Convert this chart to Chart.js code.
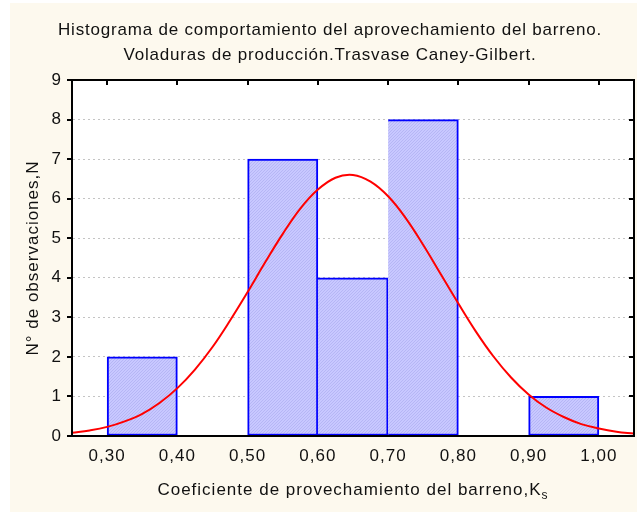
<!DOCTYPE html>
<html>
<head>
<meta charset="utf-8">
<script src="https://cdn.jsdelivr.net/npm/chart.js@4"></script>
<style>
  body { margin: 0; background: #ffffff; }
  canvas { display: block; }
</style>
</head>
<body>
<canvas id="histChart" width="637" height="512"></canvas>
<script>
// datos del histograma
var binCenters = [0.35, 0.45, 0.55, 0.65, 0.75, 0.85, 0.95];
var binCounts = [2, 0, 7, 4, 8, 0, 1];

// curva normal
var curveX = [0.25, 0.275, 0.30, 0.325, 0.35, 0.375, 0.40, 0.425, 0.45, 0.475, 0.50, 0.525, 0.55, 0.575,
              0.60, 0.625, 0.65, 0.675, 0.70, 0.725, 0.75, 0.775, 0.80, 0.825, 0.85, 0.875, 0.90, 0.925,
              0.95, 0.975, 1.00, 1.025, 1.05];
var curveY = [0.08, 0.14, 0.23, 0.37, 0.56, 0.84, 1.21, 1.68, 2.25, 2.92, 3.64, 4.39, 5.11, 5.75,
              6.23, 6.53, 6.60, 6.43, 6.06, 5.51, 4.83, 4.09, 3.35, 2.64, 2.01, 1.48, 1.05, 0.72,
              0.48, 0.30, 0.19, 0.11, 0.06];

var xTicks = [0.30, 0.40, 0.50, 0.60, 0.70, 0.80, 0.90, 1.00];
var xTickLabels = ["0,30", "0,40", "0,50", "0,60", "0,70", "0,80", "0,90", "1,00"];

var titleLines = ["Histograma de comportamiento del aprovechamiento del barreno.",
                  "Voladuras de producción.Trasvase Caney-Gilbert."];
var xTitle = "Coeficiente de provechamiento del barreno,K";
var xTitleSub = "s";
var yTitle = "N° de observaciones,N";

var FONT = "'Liberation Sans', Arial, sans-serif";

// relleno rayado de las barras
function hatchPattern() {
    var c = document.createElement("canvas");
    c.width = 3;
    c.height = 3;
    var g = c.getContext("2d");
    g.fillStyle = "#c8c8ff";
    g.fillRect(0, 0, 3, 3);
    g.fillStyle = "#b6b6f5";
    for (var i = 0; i < 3; i++) {
        g.fillRect(2 - i, i, 1, 1);
    }
    return g.createPattern(c, "repeat");
}

var barData = binCenters.map(function(x, i) { return { x: x, y: binCounts[i] }; });
var curveData = curveX.map(function(x, i) { return { x: x, y: curveY[i] }; });

var decoPlugin = {
    id: "deco",
    beforeDraw: function(chart) {
        var ctx = chart.ctx;
        var a = chart.chartArea;
        ctx.letterSpacing = "1px";
        ctx.save();
        ctx.fillStyle = "#fdf9ee";
        ctx.fillRect(10, 3, 627, 509);
        ctx.fillStyle = "#ffffff";
        ctx.fillRect(a.left, a.top, a.right - a.left, a.bottom - a.top);
        ctx.restore();
    },
    afterDraw: function(chart) {
        var ctx = chart.ctx;
        var a = chart.chartArea;
        var xs = chart.scales.x;
        var ys = chart.scales.y;
        ctx.save();
        // marco
        ctx.strokeStyle = "#000000";
        ctx.lineWidth = 2;
        ctx.strokeRect(a.left, a.top, a.right - a.left, a.bottom - a.top);
        ctx.beginPath();
        xTicks.forEach(function(v) {
            var px = Math.round(xs.getPixelForValue(v));
            ctx.moveTo(px, a.top);
            ctx.lineTo(px, a.top + 5);
        });
        for (var v = 0; v <= 9; v++) {
            var py = Math.round(ys.getPixelForValue(v));
            ctx.moveTo(a.left - 5, py);
            ctx.lineTo(a.left, py);
            ctx.moveTo(a.right - 5, py);
            ctx.lineTo(a.right, py);
        }
        ctx.stroke();

        // titulos
        ctx.fillStyle = "#111111";
        ctx.letterSpacing = "0.8px";
        ctx.font = "17px " + FONT;
        ctx.textAlign = "center";
        ctx.textBaseline = "middle";
        ctx.fillText(titleLines[0], 330, 30);
        ctx.fillText(titleLines[1], 330, 55);

        // titulo eje x con subindice
        ctx.letterSpacing = "1px";
        ctx.font = "17px " + FONT;
        var w1 = ctx.measureText(xTitle).width;
        ctx.font = "12px " + FONT;
        var w2 = ctx.measureText(xTitleSub).width;
        var cx = (a.left + a.right) / 2;
        var sx = cx - (w1 + w2) / 2;
        ctx.textAlign = "left";
        ctx.font = "17px " + FONT;
        ctx.fillText(xTitle, sx, 490);
        ctx.font = "12px " + FONT;
        ctx.fillText(xTitleSub, sx + w1, 496);

        // titulo eje y
        ctx.translate(33, (a.top + a.bottom) / 2);
        ctx.rotate(-Math.PI / 2);
        ctx.textAlign = "center";
        ctx.font = "17px " + FONT;
        ctx.fillText(yTitle, 0, 0);
        ctx.restore();
    }
};

var ctxHist = document.getElementById("histChart");

var histChartInstance = new Chart(ctxHist, {
    type: "bar",
    data: {
        datasets: [
            {
                type: "line",
                label: "Normal",
                data: curveData,
                borderColor: "#ff0000",
                borderWidth: 2,
                pointRadius: 0,
                tension: 0.4,
                fill: false,
                order: 0
            },
            {
                type: "bar",
                label: "Frecuencia",
                data: barData,
                backgroundColor: hatchPattern(),
                borderColor: "#0000ff",
                borderWidth: function(c) { return c.raw && c.raw.y > 0 ? 2 : 0; },
                // un solo trazo entre barras contiguas
                borderSkipped: function(c) {
                    var i = c.dataIndex;
                    return i > 0 && binCounts[i - 1] > 0 ? "left" : false;
                },
                barPercentage: 1,
                categoryPercentage: 1,
                order: 1
            }
        ]
    },
    options: {
        responsive: false,
        animation: false,
        layout: {
            padding: { left: 0, right: 3, top: 80, bottom: 0 }
        },
        plugins: {
            legend: { display: false },
            title: { display: false },
            tooltip: { enabled: false }
        },
        scales: {
            x: {
                type: "linear",
                min: 0.25,
                max: 1.05,
                offset: false,
                afterFit: function(s) { s.height = 76; },
                afterBuildTicks: function(s) {
                    s.ticks = xTicks.map(function(v) { return { value: v }; });
                },
                ticks: {
                    padding: 10,
                    maxRotation: 0,
                    autoSkip: false,
                    color: "#111111",
                    font: { family: FONT, size: 17 },
                    callback: function(value, index) { return xTickLabels[index]; }
                },
                grid: { display: false, offset: false, drawTicks: false },
                border: { display: true, color: "#000000", width: 2 }
            },
            y: {
                min: 0,
                max: 9,
                afterFit: function(s) { s.width = 72; },
                ticks: {
                    stepSize: 1,
                    padding: 10,
                    color: "#111111",
                    font: { family: FONT, size: 17 }
                },
                grid: {
                    color: "#c4c4c4",
                    lineWidth: 1,
                    drawTicks: false
                },
                border: { display: true, color: "#000000", width: 2, dash: [2, 3] }
            }
        }
    },
    plugins: [decoPlugin]
});
</script>
</body>
</html>
